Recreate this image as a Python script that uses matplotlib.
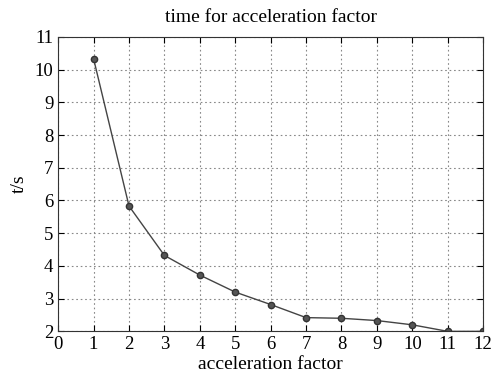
import numpy as np
import matplotlib.pyplot as plt

factor = [1, 2, 3, 4, 5, 6, 7, 8, 9, 10, 11, 12]
times = [10.33, 5.83, 4.32, 3.72, 3.2, 2.82, 2.42, 2.4, 2.33, 2.2, 2.0, 2.0]


def main():
  plt.rcParams['font.family'] = ['Liberation Serif', 'DejaVu Serif']
  fig, ax = plt.subplots(figsize=(4.93, 3.8), dpi=100)
  fig.subplots_adjust(left=0.118, right=0.98, top=0.903, bottom=0.128)

  ax.plot(factor, times, color='#444444', linewidth=1.0,
          marker='o', markersize=4.5, markerfacecolor='#555555', markeredgecolor='#333333')

  ax.set_xlim(0, 12)
  ax.set_ylim(2, 11)
  ax.set_xticks(np.arange(0, 13, 1))
  ax.set_yticks(np.arange(2, 12, 1))
  ax.grid(True, linestyle=(0, (1.5, 2.5)), color='#888888', linewidth=0.8)
  ax.tick_params(direction='in', top=True, right=True, labelsize=13.5, length=4)
  for s in ax.spines.values():
    s.set_color('#333333')

  ax.set_title('time for acceleration factor', fontsize=14, pad=11)
  ax.set_xlabel('acceleration factor', fontsize=14, labelpad=2)
  ax.set_ylabel('t/s', fontsize=14, labelpad=5)

  plt.savefig('out.png')


if __name__ == "__main__":
  main()
